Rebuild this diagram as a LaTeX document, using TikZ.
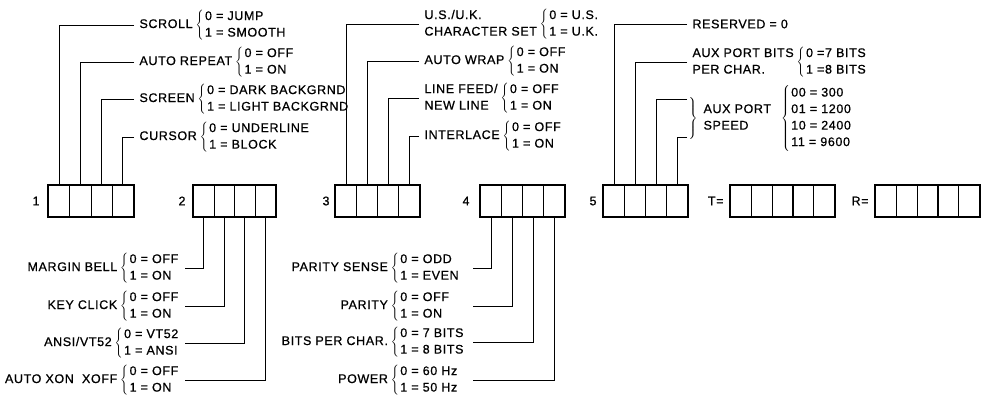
\documentclass[tikz,border=0pt]{standalone}
\usepackage{fontspec}
\setmainfont{Liberation Sans}[LetterSpace=5, FakeBold=0.8]
\usetikzlibrary{positioning}

\newcommand{\two}[3][l]{\begin{tabular}{@{}#1@{}}#2\\#3\end{tabular}}
\newcommand{\pick}[4][l]{#2\hspace{3pt}$\left\{\mskip2mu\two[#1]{#3}{#4}\right.$}
\newcommand{\bank}[4]{%
  \foreach \k in {1,...,#3}
    \node[cell, minimum width=#4pt, anchor=west] (#1-\k) at ({#2+(\k-1)*#4},201) {};
  \draw[frame] (#1-1.north west) rectangle (#1-#3.south east);}

\begin{document}
\begin{tikzpicture}[x=1pt, y=-1pt, line width=1pt, font=\fontsize{12.5}{16.5}\selectfont,
    cell/.style={draw, line width=1.1pt, minimum height=31pt, inner sep=0pt},
    frame/.style={line width=1.8pt},
    opt/.style={inner ysep=1pt, inner xsep=5pt}]

    \useasboundingbox (0,0) rectangle (986,405);

    \bank{b1}{48}{4}{21.25}
    \bank{b2}{193}{4}{20.5}
    \bank{b3}{335}{4}{21}
    \bank{b4}{480}{4}{21}
    \bank{b5}{603}{4}{21}
    \bank{t}{730}{5}{20.8}
    \bank{r}{875}{5}{20.8}

    \node[inner sep=1pt, left=7pt of b1-1] (n1) {1};
    \node[inner sep=1pt, left=6pt of b2-1] (n2) {2};
    \node[inner sep=1pt, left=4pt of b3-1] (n3) {3};
    \node[inner sep=1pt, left=9pt of b4-1] (n4) {4};
    \node[inner sep=1pt, left=5pt of b5-1] (n5) {5};
    \node[inner sep=1pt, left=5pt of t-1] (tlbl) {T=};
    \node[inner sep=1pt, left=5pt of r-1] (rlbl) {R=};

    % switch 1
    \node[opt, anchor=west] (scroll) at (134,25) {\pick{SCROLL}{0 = JUMP}{1 = SMOOTH}};
    \node[opt, anchor=west] (autorep) at (134,62) {\pick{AUTO REPEAT}{0 = OFF}{1 = ON}};
    \node[opt, anchor=west] (screen) at (134,99) {\pick{SCREEN}{0 = DARK BACKGRND}{1 = LIGHT BACKGRND}};
    \node[opt, anchor=west] (cursor) at (134,137) {\pick{CURSOR}{0 = UNDERLINE}{1 = BLOCK}};
    \draw (scroll.west) -| (b1-1.north);
    \draw (autorep.west) -| (b1-2.north);
    \draw (screen.west) -| (b1-3.north);
    \draw (cursor.west) -| (b1-4.north);

    % switch 2
    \node[opt, anchor=east] (mbell) at (185,268) {\pick{MARGIN BELL}{0 = OFF}{1 = ON}};
    \node[opt, anchor=east] (click) at (185,306) {\pick{KEY CLICK}{0 = OFF}{1 = ON}};
    \node[opt, anchor=east] (ansi) at (185,343) {\pick{ANSI/VT52}{0 = VT52}{1 = ANSI}};
    \node[opt, anchor=east] (xonxoff) at (185,380) {\pick{AUTO XON\ \ XOFF}{0 = OFF}{1 = ON}};
    \draw (b2-1.south) |- (mbell.east);
    \draw (b2-2.south) |- (click.east);
    \draw (b2-3.south) |- (ansi.east);
    \draw (b2-4.south) |- (xonxoff.east);

    % switch 3
    \node[opt, anchor=west] (charset) at (419,24) {\pick{\two{U.S./U.K.}{CHARACTER SET}}{0 = U.S.}{1 = U.K.}};
    \node[opt, anchor=west] (autowrap) at (419,61) {\pick{AUTO WRAP}{0 = OFF}{1 = ON}};
    \node[opt, anchor=west] (linefeed) at (419,98) {\pick{\two{LINE FEED/}{NEW LINE}}{0 = OFF}{1 = ON}};
    \node[opt, anchor=west] (interlace) at (419,136) {\pick{INTERLACE}{0 = OFF}{1 = ON}};
    \draw (charset.west) -| (b3-1.north);
    \draw (autowrap.west) -| (b3-2.north);
    \draw (linefeed.west) -| (b3-3.north);
    \draw (interlace.west) -| (b3-4.north);

    % switch 4
    \node[opt, anchor=east] (psense) at (473,268) {\pick[p{66pt}]{PARITY SENSE}{0 = ODD}{1 = EVEN}};
    \node[opt, anchor=east] (parity) at (473,306) {\pick[p{66pt}]{PARITY}{0 = OFF}{1 = ON}};
    \node[opt, anchor=east] (bits) at (473,342) {\pick[p{66pt}]{BITS PER CHAR.}{0 = 7 BITS}{1 = 8 BITS}};
    \node[opt, anchor=east] (power) at (473,380) {\pick[p{66pt}]{POWER}{0 = 60 Hz}{1 = 50 Hz}};
    \draw (b4-1.south) |- (psense.east);
    \draw (b4-2.south) |- (parity.east);
    \draw (b4-3.south) |- (bits.east);
    \draw (b4-4.south) |- (power.east);

    % switch 5
    \node[opt, anchor=west] (reserved) at (687,24) {RESERVED = 0};
    \node[opt, anchor=west] (auxbits) at (687,62) {\pick{\two{AUX PORT BITS}{PER CHAR.}}{0 =7 BITS}{1 =8 BITS}};
    \node[inner sep=0pt, anchor=west] (speed) at (687,118) {$\left.\vrule height 18pt depth 18pt width 0pt\right\}$\hspace{6pt}\two{AUX PORT}{SPEED}\hspace{10pt}$\left\{\mskip2mu\begin{tabular}{@{}l@{}}00 = 300\\01 = 1200\\10 = 2400\\11 = 9600\end{tabular}\right.$};
    \draw (reserved.west) -| (b5-1.north);
    \draw (auxbits.west) -| (b5-2.north);
    \draw ([yshift=19pt]speed.west) -| (b5-3.north);
    \draw ([yshift=-19pt]speed.west) -| (b5-4.north);
\end{tikzpicture}
\end{document}
